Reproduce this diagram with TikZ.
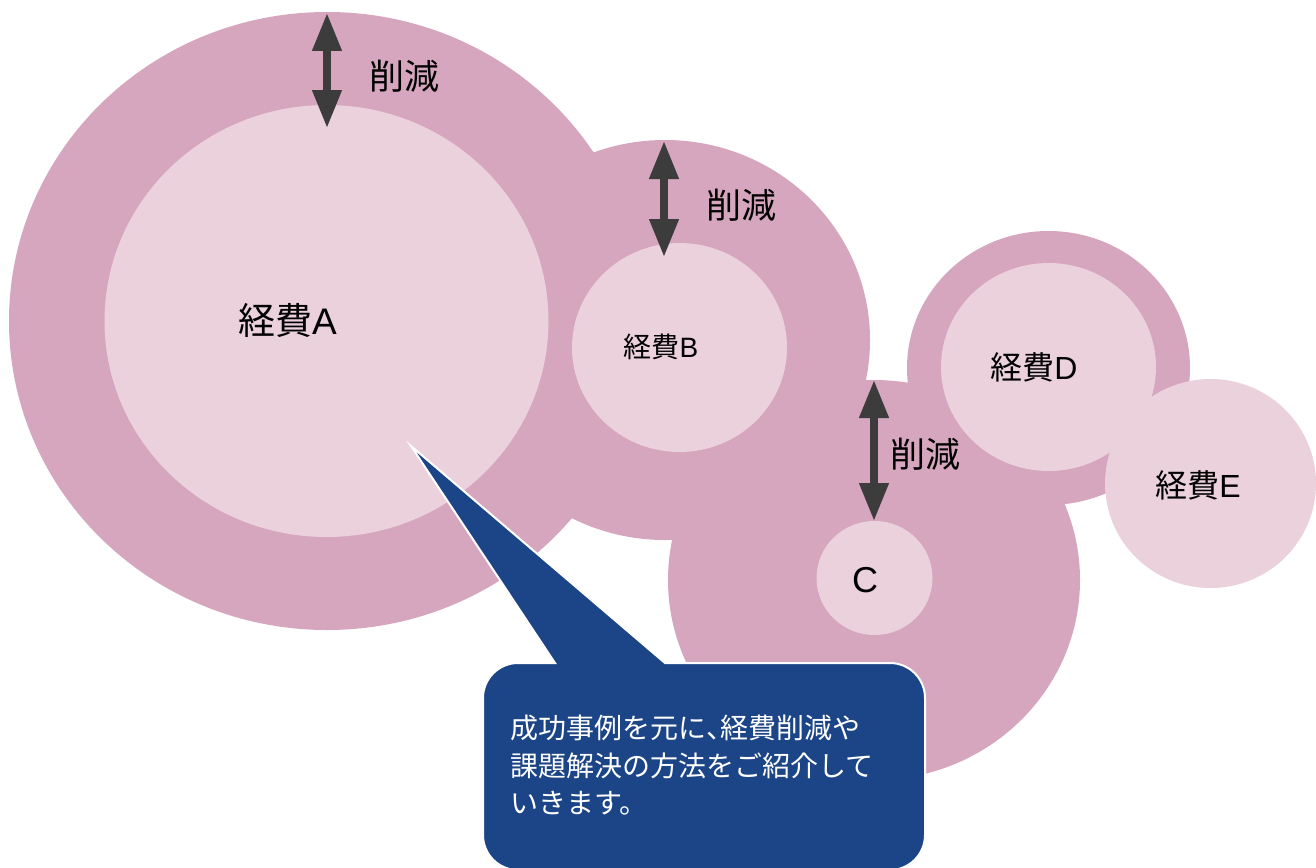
\documentclass[tikz,border=0pt]{standalone}
\usepackage{fontspec}
\setmainfont{Noto Sans CJK JP}
\newfontfamily\latin{Liberation Sans}
\usetikzlibrary{arrows.meta,shapes.geometric}
\definecolor{outerpink}{HTML}{D5A6BD}
\definecolor{innerpink}{HTML}{EAD1DC}
\definecolor{callblue}{HTML}{1C4587}
\definecolor{arrowgray}{HTML}{3C3C3C}
\tikzset{
  outerc/.style={ellipse, fill=outerpink, inner sep=0pt},
  innerc/.style={ellipse, fill=innerpink, inner sep=0pt},
  dblarrow/.style={draw=arrowgray, line width=7.5pt,
    {Triangle[width=28pt,length=38pt]}-{Triangle[width=28pt,length=38pt]}},
  cutlabel/.style={font=\fontsize{35}{38}\selectfont, inner sep=0pt},
  namelabel/.style={inner sep=0pt},
  callout/.style={fill=callblue, draw=white, line width=2pt},
}
\begin{document}
\begin{tikzpicture}[x=1pt,y=-1pt]
\path[use as bounding box, fill=white] (0,0) rectangle (1316,867);
% outer rings
\node[outerc, minimum width=636pt, minimum height=618pt] (Aout) at (327,321) {};
\node[outerc, minimum width=410pt, minimum height=400pt] (Bout) at (665,340) {};
\node[outerc, minimum width=412pt, minimum height=400pt] (Cout) at (874,580) {};
\node[outerc, minimum width=283pt, minimum height=274pt] (Dout) at (1048.5,368) {};
% inner discs
\node[innerc, minimum width=444pt, minimum height=432pt] (Ain) at (326.5,321) {};
\node[innerc, minimum width=215pt, minimum height=209pt] (Bin) at (679.5,347.5) {};
\node[innerc, minimum width=116pt, minimum height=114pt] (Cin) at (874.5,578) {};
\node[innerc, minimum width=215pt, minimum height=208pt] (Din) at (1048.5,367) {};
\node[innerc, minimum width=211pt, minimum height=209pt] (E) at (1210.5,483.5) {};
% names
\node[namelabel, font=\fontsize{37}{40}\selectfont] (Alab) at (287.5,320) {経費{\latin A}};
\node[namelabel, font=\fontsize{28}{32}\selectfont] (Blab) at (661,347) {経費{\latin B}};
\node[namelabel, font=\fontsize{32}{36}\selectfont] (Dlab) at (1034,367) {経費{\latin D}};
\node[namelabel, font=\fontsize{32}{36}\selectfont] (Elab) at (1198,485) {経費{\latin E}};
\node[namelabel, font=\fontsize{36}{40}\selectfont\latin] (Clab) at (865,580) {C};
% reduction arrows
\coordinate (a1t) at (327,13);  \coordinate (a1b) at (327,128);
\coordinate (a2t) at (664,141); \coordinate (a2b) at (664,257);
\coordinate (a3t) at (874,380); \coordinate (a3b) at (874,521);
\draw[dblarrow] (a1t) -- (a1b);
\draw[dblarrow] (a2t) -- (a2b);
\draw[dblarrow] (a3t) -- (a3b);
\node[cutlabel] (r1) at (404,76) {削減};
\node[cutlabel] (r2) at (741,205) {削減};
\node[cutlabel] (r3) at (925,454) {削減};
% callout
\coordinate (tip) at (411,446);
\draw[callout] (665,663) -- (890,663) arc[start angle=270, end angle=360, radius=35]
  -- (925,835) arc[start angle=0, end angle=90, radius=35]
  -- (518,870) arc[start angle=90, end angle=180, radius=35]
  -- (483,698) arc[start angle=180, end angle=270, radius=35]
  -- (555,663) -- (tip) -- cycle;
\node[anchor=north west, inner sep=0pt, text=white, align=left,
  font=\fontsize{28}{37.5}\selectfont] (msg) at (510,715)
  {成功事例を元に{\addfontfeatures{RawFeature=+halt}、}経費削減や\\課題解決の方法をご紹介して\\いきます。};
\end{tikzpicture}
\end{document}
